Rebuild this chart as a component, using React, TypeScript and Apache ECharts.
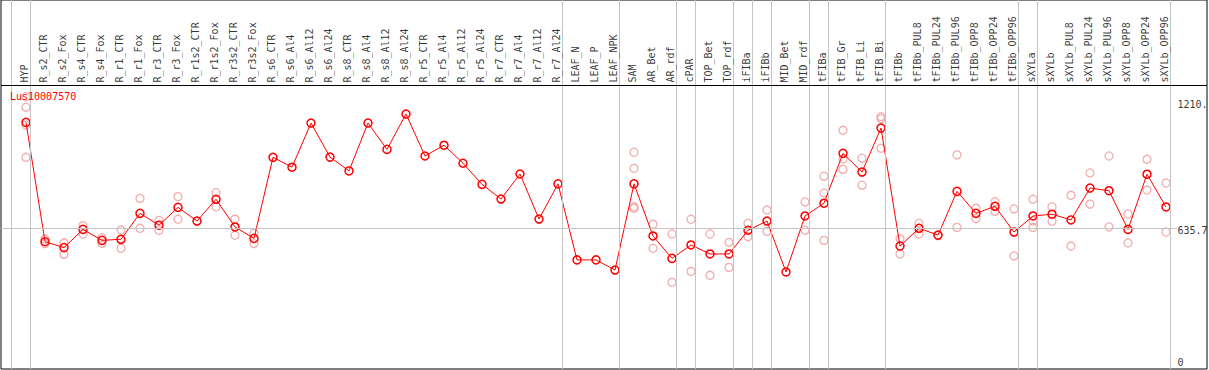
import React, { useEffect, useRef } from "react";
import * as echarts from "echarts";

const geneName = "Lus10007570";

const categories = [
  "HYP", "R_s2_CTR", "R_s2_Fox", "R_s4_CTR", "R_s4_Fox", "R_r1_CTR", "R_r1_Fox", "R_r3_CTR", "R_r3_Fox",
  "R_r1s2_CTR", "R_r1s2_Fox", "R_r3s2_CTR", "R_r3s2_Fox", "R_s6_CTR", "R_s6_Al4", "R_s6_Al12", "R_s6_Al24",
  "R_s8_CTR", "R_s8_Al4", "R_s8_Al12", "R_s8_Al24", "R_r5_CTR", "R_r5_Al4", "R_r5_Al12", "R_r5_Al24",
  "R_r7_CTR", "R_r7_Al4", "R_r7_Al12", "R_r7_Al24", "LEAF_N", "LEAF_P", "LEAF_NPK", "SAM", "AR_Bet", "AR_rdf",
  "cPAR", "TOP_Bet", "TOP_rdf", "iFIBa", "iFIBb", "MID_Bet", "MID_rdf", "tFIBa", "tFIB_Gr", "tFIB_Li", "tFIB_Bi",
  "tFIBb", "tFIBb_PUL8", "tFIBb_PUL24", "tFIBb_PUL96", "tFIBb_OPP8", "tFIBb_OPP24", "tFIBb_OPP96",
  "sXYLa", "sXYLb", "sXYLb_PUL8", "sXYLb_PUL24", "sXYLb_PUL96", "sXYLb_OPP8", "sXYLb_OPP24", "sXYLb_OPP96",
];

const meanValues = [
  1118, 575, 548, 631, 581, 586, 704, 650, 731, 669, 768, 642, 590, 959, 914, 1115, 960, 897, 1115, 995, 1156,
  965, 1014, 932, 836, 769, 883, 678, 838, 492, 492, 446, 838, 601, 499, 560, 519, 519, 627, 669, 437, 692, 750,
  977, 892, 1092, 555, 636, 605, 804, 704, 736, 619, 692, 700, 674, 819, 807, 631, 882, 733,
];

const replicates: number[][] = [
  [1235, 1187, 1106, 959], [587, 566], [570, 518], [648, 610], [593, 568], [628, 545], [772, 636], [672, 627],
  [780, 677], [], [798, 734], [678, 604], [613, 566],
  [], [], [], [], [], [], [], [], [], [], [], [], [], [], [], [], [], [], [],
  [982, 909, 734, 727], [654, 545], [610, 390], [677, 440], [610, 422], [572, 458], [659, 598], [719, 622], [],
  [756, 627], [873, 797, 581], [1082, 951, 904], [955, 832], [1144, 1135, 1000], [589, 519], [659, 610], [602],
  [970, 640], [727, 680], [757, 713], [724, 510], [768, 669, 640], [734, 668], [786, 555], [888, 746], [965, 642],
  [701, 569], [950, 810], [842, 619],
];

const groupEnds = [-1, 0, 28, 31, 34, 35, 37, 38, 39, 41, 42, 45, 52, 53, 60];
const refLineValue = 635.7;
const yTickValues = [0, 635.7, 1210];
const yTickLabels = ["0", "635.7", "1210."];

const MONO = "DejaVu Sans Mono";

export default function App() {
  const ref = useRef<HTMLDivElement>(null);
  useEffect(() => {
    document.body.style.margin = "0";
    if (!ref.current) return;
    const chart = echarts.init(ref.current, undefined, { renderer: "svg" });
    const xMin = -25 / 19;
    const xMax = xMin + 1206 / 19;
    const yMin = -4.5;
    const yMax = 1675;
    const headerLine = 1288;
    const labelBase = 1297;
    const sepOffset = 0.21;
    const refLineEnd = 60.58;
    const yLabelX = 60.63;

    const paleData: number[][] = [];
    replicates.forEach((arr, i) => arr.forEach((v) => paleData.push([i, v])));

    chart.setOption({
      animation: false,
      title: {
        text: geneName,
        left: 10,
        top: 91,
        padding: 0,
        textStyle: { color: "#ff0000", fontSize: 10, fontFamily: MONO, fontWeight: "normal" },
      },
      grid: { left: 1, right: 2, top: 0, bottom: 1, show: true, borderColor: "#000", borderWidth: 1, backgroundColor: "#fff" },
      xAxis: { type: "value", min: xMin, max: xMax, show: false },
      yAxis: { type: "value", min: yMin, max: yMax, show: false },
      series: [
        {
          type: "line",
          name: "guides",
          data: [],
          silent: true,
          markLine: {
            silent: true,
            symbol: "none",
            label: { show: false },
            lineStyle: { color: "#c4c4c4", type: "solid", width: 1 },
            data: [
              ...groupEnds.map((e) => ({ xAxis: e + sepOffset })),
              [{ coord: [xMin, refLineValue] }, { coord: [refLineEnd, refLineValue] }],
            ],
          },
          z: 1,
        },
        {
          type: "line",
          name: "header",
          data: [],
          silent: true,
          markLine: {
            silent: true,
            symbol: "none",
            label: { show: false },
            lineStyle: { color: "#000", type: "solid", width: 1 },
            data: [{ yAxis: headerLine }],
          },
          z: 2,
        },
        {
          type: "scatter",
          name: "replicates",
          data: paleData,
          symbol: "circle",
          symbolSize: 8,
          itemStyle: { color: "rgba(0,0,0,0)", borderColor: "#ee9a9a", borderWidth: 1.3 },
          z: 3,
        },
        {
          type: "line",
          name: geneName,
          data: meanValues.map((v, i) => [i, v]),
          symbol: "circle",
          symbolSize: 8,
          lineStyle: { color: "#ff0000", width: 1 },
          itemStyle: { color: "rgba(0,0,0,0)", borderColor: "#ff0000", borderWidth: 1.5 },
          z: 4,
        },
        {
          type: "scatter",
          name: "catLabels",
          data: categories.map((c, i) => [i, labelBase]),
          symbolSize: 1,
          itemStyle: { color: "rgba(0,0,0,0)" },
          silent: true,
          label: {
            show: true,
            formatter: (p: any) => categories[p.dataIndex],
            position: [0, 0],
            rotate: 90,
            align: "left",
            verticalAlign: "middle",
            offset: [0, -1],
            color: "#000",
            fontSize: 10,
            fontFamily: MONO,
          },
          z: 5,
        },
        {
          type: "scatter",
          name: "yLabels",
          data: yTickValues.map((v, i) => ({
            value: [yLabelX, v],
            label: i === 0 ? { verticalAlign: "bottom", offset: [0, 0] } : {},
          })),
          symbolSize: 1,
          itemStyle: { color: "rgba(0,0,0,0)" },
          silent: true,
          label: {
            show: true,
            formatter: (p: any) => yTickLabels[p.dataIndex],
            position: [0, 0],
            align: "left",
            verticalAlign: "top",
            offset: [0, -2],
            color: "#000",
            fontSize: 10,
            fontFamily: MONO,
          },
          z: 5,
        },
      ],
    });
    return () => chart.dispose();
  }, []);
  return <div ref={ref} style={{ width: 1209, height: 370 }} />;
}
